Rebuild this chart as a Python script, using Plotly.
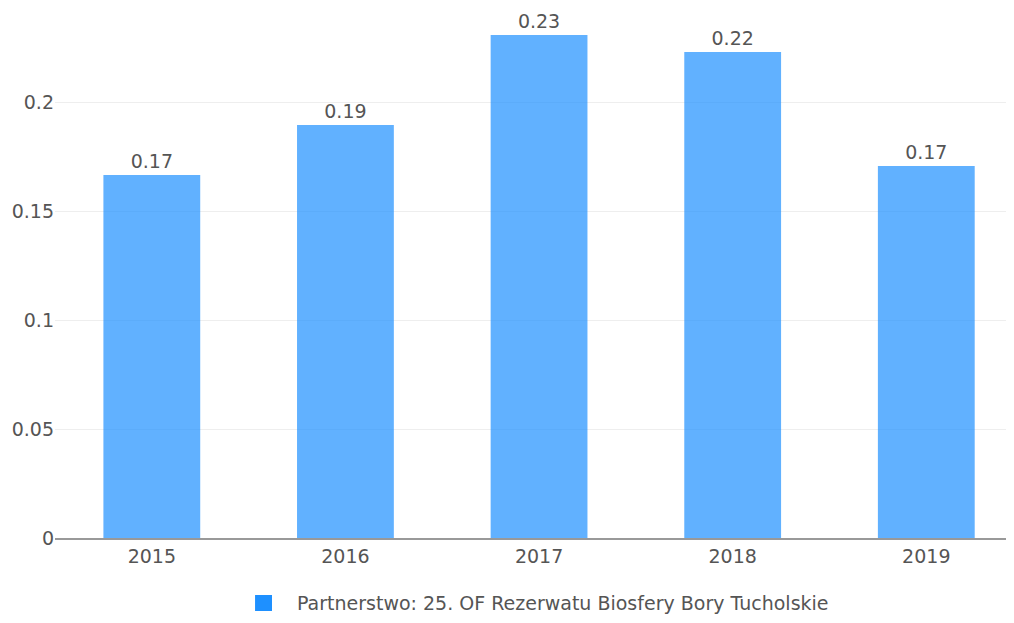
import plotly.graph_objects as go

years = ["2015", "2016", "2017", "2018", "2019"]
values = [0.1665, 0.1894, 0.2307, 0.2229, 0.1706]
labels = ["0.17", "0.19", "0.23", "0.22", "0.17"]
series_name = "Partnerstwo: 25. OF Rezerwatu Biosfery Bory Tucholskie"

font_family = "DejaVu Sans, Verdana, sans-serif"

fig = go.Figure()
fig.add_trace(go.Bar(
    x=years, y=values, text=labels, textposition="outside", name=series_name,
    textfont=dict(color="#555555", size=19, family=font_family),
    marker=dict(color="rgba(30,144,255,0.7)", line=dict(width=0)),
    width=0.5, showlegend=False, cliponaxis=False, hoverinfo="x+y",
))

# legend (drawn as swatch + label to fit in the bottom strip)
fig.add_shape(type="rect", xref="paper", yref="paper",
              x0=0.2086, x1=0.2263, y0=-0.1383, y1=-0.1080,
              fillcolor="#1E90FF", line=dict(width=0))
fig.add_annotation(text=series_name, xref="paper", yref="paper",
                   x=0.2503, y=-0.1231, xanchor="left", yanchor="middle",
                   showarrow=False,
                   font=dict(size=19, color="#555555", family=font_family))

fig.update_layout(
    width=1006, height=607,
    margin=dict(l=47, r=0, t=2, b=77, autoexpand=False),
    paper_bgcolor="white", plot_bgcolor="white",
    font=dict(family=font_family, color="#555555", size=19),
    showlegend=False,
    xaxis=dict(
        type="category", range=[-0.5, 4.453],
        showgrid=False, showline=True, linecolor="#999999", linewidth=2,
        ticks="", tickfont=dict(size=19, color="#555555"),
    ),
    yaxis=dict(
        range=[0, 0.2422], tickvals=[0, 0.05, 0.1, 0.15, 0.2],
        ticktext=["0", "0.05", "0.1", "0.15", "0.2"],
        showgrid=True, gridcolor="#eeeeee", gridwidth=1,
        zeroline=False, showline=False, ticks="",
        tickfont=dict(size=19, color="#555555"),
    ),
)

fig.write_html("out.html")
